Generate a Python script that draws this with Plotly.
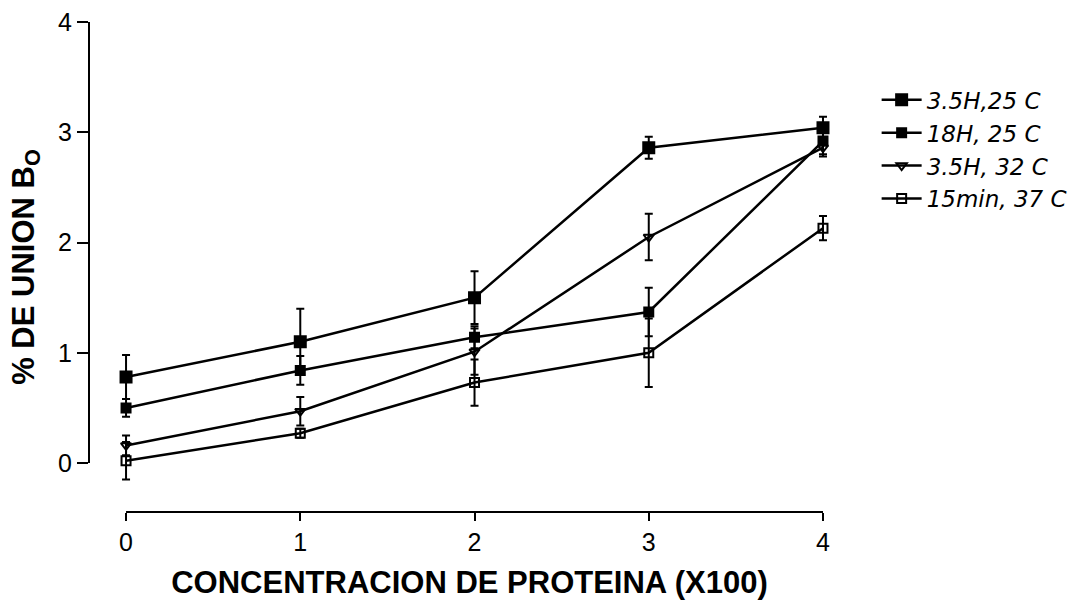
import plotly.graph_objects as go

# Protein concentration (x100)
conc = [0, 1, 2, 3, 4]

# % binding B0 for each incubation condition, with error bars
names = ["3.5H,25 C", "18H, 25 C", "3.5H, 32 C", "15min, 37 C"]
b_35h_25 = [0.78, 1.10, 1.50, 2.86, 3.04]
e_35h_25 = [0.20, 0.30, 0.24, 0.10, 0.10]
b_18h_25 = [0.50, 0.84, 1.14, 1.37, 2.92]
e_18h_25 = [0.08, 0.13, 0.10, 0.22, 0.12]
b_35h_32 = [0.16, 0.47, 1.01, 2.05, 2.86]
e_35h_32 = [0.09, 0.13, 0.21, 0.21, 0.08]
b_15m_37 = [0.02, 0.27, 0.73, 1.00, 2.13]
e_15m_37 = [0.17, 0.04, 0.21, 0.31, 0.11]

series = [
    (names[0], b_35h_25, e_35h_25, "square", 11),
    (names[1], b_18h_25, e_18h_25, "square", 9),
    (names[2], b_35h_32, e_35h_32, "triangle-down-open", 9),
    (names[3], b_15m_37, e_15m_37, "square-open", 9),
]

FONT = "Liberation Sans, Arial, sans-serif"

fig = go.Figure()
for name, ys, errs, sym, size in series:
    fig.add_trace(go.Scatter(
        x=conc, y=ys, name=name, mode="lines+markers",
        line=dict(color="black", width=2.5),
        marker=dict(symbol=sym, size=size, color="black",
                    line=dict(color="black", width=2)),
        error_y=dict(type="data", array=errs, visible=True,
                     color="black", thickness=2, width=4),
    ))

axis_font = dict(family=FONT, size=25, color="black")

# Detached axis lines spanning only the tick range
fig.add_shape(type="line", xref="paper", yref="y", x0=0, x1=0, y0=0, y1=4,
              line=dict(color="black", width=2))
fig.add_shape(type="line", xref="x", yref="paper", x0=0, x1=4, y0=0, y1=0,
              line=dict(color="black", width=2))

fig.update_layout(
    width=1084, height=606,
    margin=dict(l=89, r=234, t=22, b=94, autoexpand=False),
    paper_bgcolor="white", plot_bgcolor="white",
    font=dict(family=FONT, color="black"),
    xaxis=dict(
        range=[-0.2126, 4.155], tickvals=conc, ticktext=[str(v) for v in conc],
        showgrid=False, zeroline=False, showline=False, automargin=False,
        ticks="outside", ticklen=8, tickwidth=2, tickcolor="black",
        tickfont=axis_font,
        title=dict(text="<b>CONCENTRACION DE PROTEINA (X100)</b>",
                   font=dict(size=31, family=FONT),
                   standoff=16),
    ),
    yaxis=dict(
        range=[-0.444, 4.0], tickvals=[0, 1, 2, 3, 4],
        showgrid=False, zeroline=False, showline=False, automargin=False,
        ticks="outside", ticklen=11, tickwidth=2, tickcolor="black",
        tickfont=axis_font,
        title=dict(text="<b>% DE UNION B<sub>O</sub></b>",
                   font=dict(size=31, family=FONT),
                   standoff=14),
    ),
    legend=dict(
        x=1.035, y=0.885, xanchor="left", yanchor="top",
        font=dict(size=23, family="DejaVu Sans, sans-serif",
                  style="italic", color="black"),
        bgcolor="rgba(0,0,0,0)", tracegroupgap=0, itemwidth=40,
    ),
    showlegend=True,
)

fig.write_html("out.html")
